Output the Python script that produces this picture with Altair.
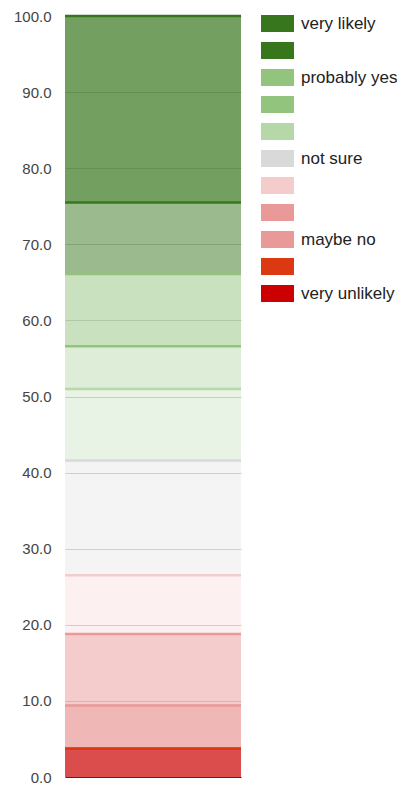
import json

import altair as alt
import pandas as pd

# Series, listed top to bottom as in the legend
series_labels = ["very likely", "", "probably yes", "", "", "not sure",
                 "", "", "maybe no", "", "very unlikely"]
series_values = [24.5, 9.4, 9.5, 5.6, 9.4, 15.1, 7.7, 9.4, 5.7, 0.0, 3.7]
series_colors = ["#38761d", "#38761d", "#93c47d", "#93c47d", "#b6d7a8", "#d9d9d9",
                 "#f4cccc", "#ea9999", "#ea9999", "#dc3912", "#cc0000"]
fill_alpha = [0.7, 0.5, 0.5, 0.3, 0.3, 0.3, 0.3, 0.5, 0.7, 0.7, 0.7]
y_ticks = [0, 10, 20, 30, 40, 50, 60, 70, 80, 90, 100]

keys = [f"k{i}" for i in range(len(series_labels))]

# Stack from the bottom up (reverse of legend order)
df = pd.DataFrame({
    "key": keys,
    "value": series_values,
    "alpha": fill_alpha,
})[::-1].reset_index(drop=True)
df["top"] = df["value"].cumsum()
df["bottom"] = df["top"] - df["value"]
df["group"] = "all"

FONT = "Liberation Sans"

label_expr = f"{json.dumps(series_labels)}[indexof({json.dumps(keys)}, datum.value)]"

color = alt.Color(
    "key:N",
    scale=alt.Scale(domain=keys, range=series_colors),
    legend=alt.Legend(
        title=None,
        orient="none",
        legendX=204,
        legendY=-1,
        labelExpr=label_expr,
        labelFont=FONT,
        labelFontSize=17,
        labelColor="#222222",
        labelOffset=15,
        symbolType="M-1.94,-1H1.94V1H-1.94Z",
        symbolSize=289,
        symbolStrokeWidth=0,
        symbolOpacity=1,
        rowPadding=9,
        padding=0,
    ),
)

y_axis = alt.Axis(
    values=y_ticks,
    format=".1f",
    domain=False,
    ticks=False,
    grid=True,
    gridColor="#cccccc",
    labelFont=FONT,
    labelFontSize=15,
    labelColor="#444444",
    labelPadding=14,
    title=None,
)

bars = alt.Chart(df).mark_bar().encode(
    x=alt.X("group:N",
            scale=alt.Scale(paddingInner=0, paddingOuter=0),
            axis=alt.Axis(labels=False, ticks=False, title=None,
                          domainColor="#333333", domainWidth=1)),
    y=alt.Y("bottom:Q", scale=alt.Scale(domain=[0, 100], nice=False), axis=y_axis),
    y2="top:Q",
    color=color,
    fillOpacity=alt.FillOpacity("alpha:Q", scale=None),
)

# Series lines on top of each band
lines = alt.Chart(df).mark_rule(strokeWidth=2.5).encode(
    y="top:Q",
    color=color,
)

chart = (bars + lines).properties(
    width=176,
    height=761,
    autosize=alt.AutoSizeParams(type="none"),
    padding={"left": 57, "top": 8, "right": 156, "bottom": 8},
).configure_view(
    strokeWidth=0
)

chart.save("out.html", embed_options={"renderer": "svg", "actions": False})
